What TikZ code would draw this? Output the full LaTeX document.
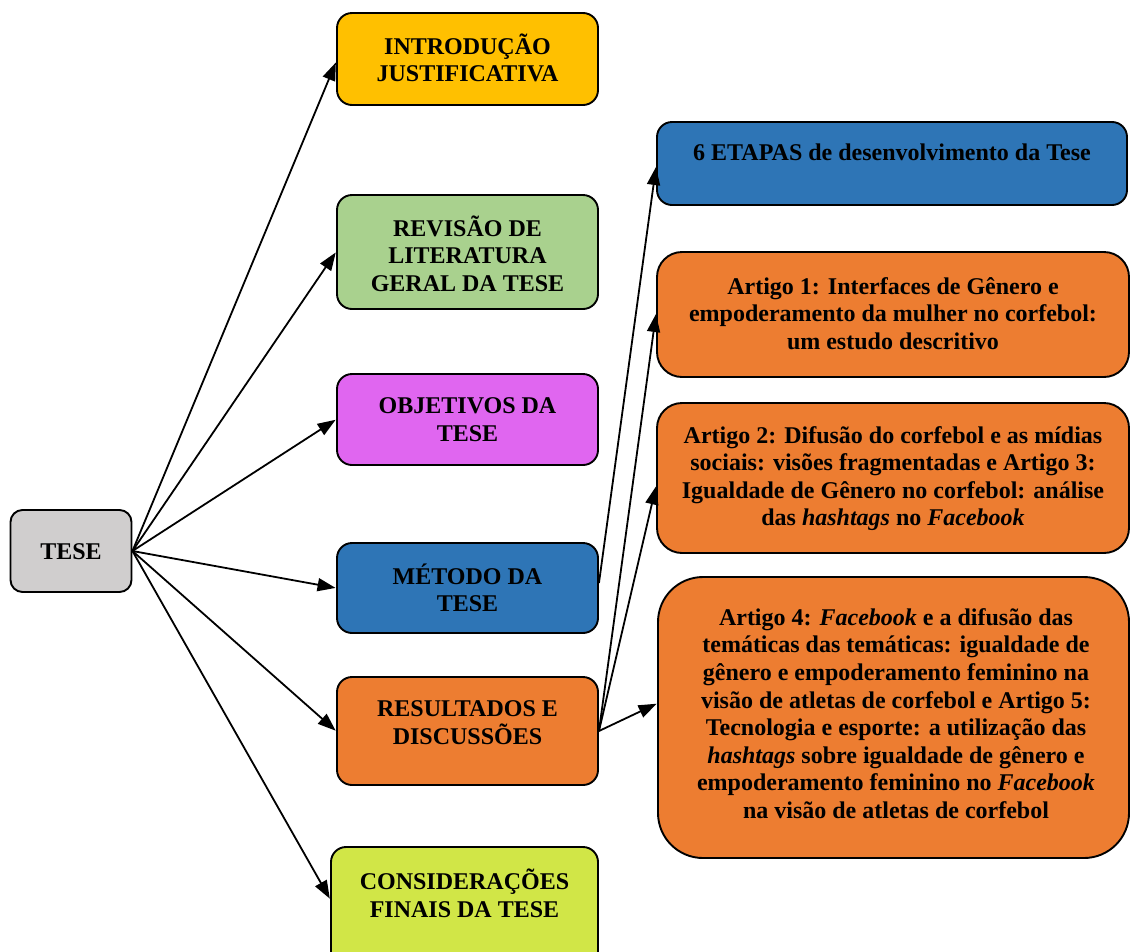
\documentclass[tikz,border=0pt]{standalone}
\usepackage{fontspec}
\setmainfont{Liberation Serif}
\usetikzlibrary{arrows.meta}
\definecolor{cgray}{HTML}{D0CECE}
\definecolor{cyellow}{HTML}{FFC000}
\definecolor{cgreen}{HTML}{A9D18E}
\definecolor{cmagenta}{HTML}{E066F0}
\definecolor{cblue}{HTML}{2E75B6}
\definecolor{corange}{HTML}{ED7D31}
\definecolor{clime}{HTML}{D1E647}
\tikzset{
  box/.style={draw=black, line width=1.9pt, rounded corners=15pt, inner sep=0pt},
  txt/.style={align=center, font=\fontsize{24}{27.6}\selectfont\bfseries, inner sep=0pt},
  arr/.style={line width=1.8pt, -{Triangle[length=18pt,width=13pt]}, shorten >=0.5pt}
}
\begin{document}
\begin{tikzpicture}[x=1pt,y=-1pt]
\useasboundingbox (0,0) rectangle (1131,951);
% left column
\node[box, fill=cgray, rounded corners=12pt, minimum width=121pt, minimum height=82pt] (tese) at (71,551) {};
\node[txt] (teset) at (71,552) {TESE};
\node[box, fill=cyellow, minimum width=261pt, minimum height=92pt] (intro) at (467.5,59) {};
\node[txt] (introt) at (467.5,58) {INTRODUÇÃO\\JUSTIFICATIVA};
\node[box, fill=cgreen, minimum width=261pt, minimum height=114pt] (rev) at (467.5,252) {};
\node[txt] (revt) at (467.5,253.5) {REVISÃO DE\\LITERATURA\\GERAL DA TESE};
\node[box, fill=cmagenta, minimum width=261pt, minimum height=91pt] (obj) at (467.5,419.5) {};
\node[txt] (objt) at (467.5,419.5) {OBJETIVOS DA\\TESE};
\node[box, fill=cblue, minimum width=261pt, minimum height=90pt] (met) at (467.5,588) {};
\node[txt] (mett) at (467.5,588) {MÉTODO DA\\TESE};
\node[box, fill=corange, minimum width=261pt, minimum height=108pt] (res) at (467.5,731) {};
\node[txt] (rest) at (467.5,722.5) {RESULTADOS E\\DISCUSSÕES};
\node[box, fill=clime, minimum width=267pt, minimum height=125pt] (con) at (464.5,909.5) {};
\node[txt] (cont) at (464.5,893.5) {CONSIDERAÇÕES\\FINAIS DA TESE};
% right column
\node[box, fill=cblue, minimum width=470pt, minimum height=83pt] (eta) at (892,163.5) {};
\node[txt] (etat) at (892,152) {6 ETAPAS de desenvolvimento da Tese};
\node[box, fill=corange, rounded corners=25pt, minimum width=472pt, minimum height=125pt] (a1) at (893,314.5) {};
\node[txt] (a1t) at (893,313.5) {Artigo 1: Interfaces de Gênero e\\empoderamento da mulher no corfebol:\\um estudo descritivo};
\node[box, fill=corange, rounded corners=25pt, minimum width=472pt, minimum height=150pt] (a2) at (893,478) {};
\node[txt] (a2t) at (893,478.5) {Artigo 2: Difusão do corfebol e as mídias\\sociais: visões fragmentadas e Artigo 3:\\Igualdade de Gênero no corfebol: análise\\das \textit{hashtags} no \textit{Facebook}};
\node[box, fill=corange, rounded corners=45pt, minimum width=471pt, minimum height=281pt] (a4) at (893.5,717.5) {};
\node[txt] (a4t) at (896,713.5) {Artigo 4: \textit{Facebook} e a difusão das\\temáticas das temáticas: igualdade de\\gênero e empoderamento feminino na\\visão de atletas de corfebol e Artigo 5:\\Tecnologia e esporte: a utilização das\\\textit{hashtags} sobre igualdade de gênero e\\empoderamento feminino no \textit{Facebook}\\na visão de atletas de corfebol};
% connectors
\coordinate (tesesrc) at (tese.east);
\draw[arr] (tesesrc) -- ([yshift=-3pt]intro.west);
\draw[arr] (tesesrc) -- (rev.west);
\draw[arr] (tesesrc) -- (obj.west);
\draw[arr] (tesesrc) -- (met.west);
\draw[arr] (tesesrc) -- (res.west);
\draw[arr] (tesesrc) -- ([yshift=-53pt]con.north west);
\draw[arr] ([yshift=5pt]met.east) -- ([yshift=-3pt]eta.west);
\draw[arr] (res.east) -- ([yshift=1pt]a1.west);
\draw[arr] (res.east) -- ([yshift=-8pt]a2.west);
\draw[arr] (res.east) -- ([yshift=14pt]a4.west);
\end{tikzpicture}
\end{document}
